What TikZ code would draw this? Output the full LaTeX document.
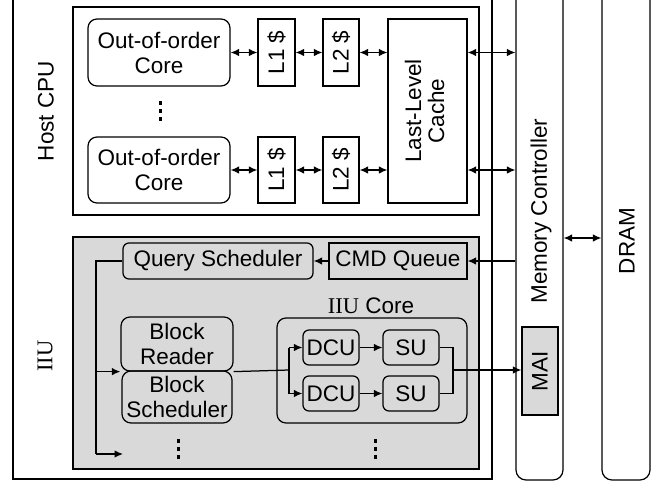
\documentclass[tikz,border=0pt]{standalone}
\usepackage{fontspec}
\setmainfont{Liberation Sans}
\newfontfamily\serifrm{Liberation Serif}
\usetikzlibrary{arrows.meta}
\definecolor{unitgray}{HTML}{D9D9D9}
\tikzset{
  lbl/.style={font=\fontsize{22.5}{25}\selectfont, align=center, inner sep=0pt},
  sq/.style={draw, line width=1.25pt, rectangle, inner sep=0pt, lbl},
  rbox/.style={sq, rounded corners=9pt},
  sbox/.style={sq, rounded corners=6pt},
  conn/.style={line width=1.25pt},
  arr/.style={conn, -{Latex[length=8.5pt,width=7.5pt]}},
  biarr/.style={conn, {Latex[length=8.5pt,width=7.5pt]}-{Latex[length=8.5pt,width=7.5pt]}},
  dot/.style={fill=black},
}
\begin{document}
\begin{tikzpicture}[x=1pt, y=-1pt]
\useasboundingbox (0,0) rectangle (657,482);
\clip (0,0) rectangle (657,482);

% system frame and the two memory-side columns
\node[sq, minimum width=479pt, minimum height=489pt] (sys) at (252.5,234.5) {};
\node[sq, rounded corners=10pt, fill=white, minimum width=47pt, minimum height=490pt] (mc) at (539.5,235) {};
\node[lbl, rotate=90] (mctxt) at (541,211) {Memory Controller};
\node[sq, rounded corners=10pt, minimum width=48pt, minimum height=490pt] (dram) at (626,235) {};
\node[lbl, rotate=90] (dramtxt) at (627,241) {DRAM};
\node[sq, fill=unitgray, minimum width=36pt, minimum height=88pt] (mai) at (540,371) {};
\node[lbl, rotate=90] (maitxt) at (540,371) {MAI};

% host CPU
\node[sq, minimum width=406pt, minimum height=208pt] (cpu) at (276,111) {};
\node[lbl, rotate=90] (cpulbl) at (46,111) {Host CPU};
\node[rbox, minimum width=142pt, minimum height=67pt] (core1) at (159,52.5) {Out-of-order\\Core};
\node[rbox, minimum width=142pt, minimum height=66pt] (core2) at (159,170) {Out-of-order\\Core};
\node[sq, minimum width=37pt, minimum height=67pt] (l1a) at (276.5,52.5) {\rotatebox{90}{L1 \$}};
\node[sq, minimum width=36pt, minimum height=67pt] (l2a) at (341,52.5) {\rotatebox{90}{L2 \$}};
\node[sq, minimum width=37pt, minimum height=66pt] (l1b) at (276.5,170) {\rotatebox{90}{L1 \$}};
\node[sq, minimum width=36pt, minimum height=66pt] (l2b) at (341,170) {\rotatebox{90}{L2 \$}};
\node[sq, minimum width=79pt, minimum height=184pt] (llc) at (427.5,111) {\rotatebox{90}{\begin{tabular}{@{}c@{}}Last-Level\\[-2pt]Cache\end{tabular}}};
\foreach \yy in {103,111,119} \fill[dot] (158.5,\yy-1.7) rectangle (161.5,\yy+1.7);

\draw[biarr] (core1.east) -- (l1a.west);
\draw[biarr] (l1a.east) -- (l2a.west);
\draw[biarr] (l2a.east) -- (l2a.east -| llc.west);
\draw[biarr] (core2.east) -- (l1b.west);
\draw[biarr] (l1b.east) -- (l2b.west);
\draw[biarr] (l2b.east) -- (l2b.east -| llc.west);
\draw[biarr] (l2a.east -| llc.east) -- (l2a.east -| mc.west);
\draw[biarr] (l2b.east -| llc.east) -- (l2b.east -| mc.west);

% IIU
\node[sq, fill=unitgray, minimum width=406pt, minimum height=232pt] (iiu) at (276,353) {};
\node[lbl, rotate=90] (iiulbl) at (45,356) {\serifrm IIU};
\node[sbox, minimum width=190pt, minimum height=36pt] (qs) at (218,261) {Query Scheduler};
\node[sq, minimum width=138pt, minimum height=36pt] (cmd) at (398,261) {CMD Queue};
\node[rbox, minimum width=112pt, minimum height=54pt] (br) at (177,344) {Block\\Reader};
\node[rbox, minimum width=110pt, minimum height=52pt] (bs) at (177,397) {Block\\Scheduler};
\node[rbox, minimum width=190pt, minimum height=105pt] (icore) at (372,370.5) {};
\node[lbl] (icorelbl) at (371,306) {{\serifrm IIU} Core};
\node[sbox, minimum width=56pt, minimum height=35pt] (dcu1) at (331,347.5) {DCU};
\node[sbox, minimum width=56pt, minimum height=35pt] (dcu2) at (331,393.5) {DCU};
\node[sbox, minimum width=56pt, minimum height=35pt] (su1) at (411,347.5) {SU};
\node[sbox, minimum width=56pt, minimum height=35pt] (su2) at (411,393.5) {SU};
\foreach \yy in {441,449,457} {
  \fill[dot] (176.5,\yy-1.7) rectangle (179.5,\yy+1.7);
  \fill[dot] (373.5,\yy-1.7) rectangle (376.5,\yy+1.7);
}

% IIU datapath
\coordinate (bus) at (96,261);
\coordinate (busend) at (96,454);
\coordinate (nextblk) at (123,454);
\coordinate (fork) at (289,370);
\coordinate (join) at (453,370);
\coordinate (memlink) at (mc.east |- 0,238);

\draw[biarr] (memlink) -- (memlink -| dram.west);
\draw[arr] (mc.west |- cmd.east) -- (cmd.east);
\draw[arr] (cmd.west) -- (qs.east);
\draw[conn] (qs.west) -- (bus) -- (busend);
\draw[arr] (busend) -- (nextblk);
\draw[arr] (bus |- br.south) -- (br.south west);
\draw[conn] (br.south east) -- (fork);
\draw[conn] (fork |- dcu1.west) -- (fork |- dcu2.west);
\draw[arr] (fork |- dcu1.west) -- (dcu1.west);
\draw[arr] (fork |- dcu2.west) -- (dcu2.west);
\draw[arr] (dcu1.east) -- (su1.west);
\draw[arr] (dcu2.east) -- (su2.west);
\draw[conn] (su1.east) -- (join |- su1.east) -- (join |- su2.east) -- (su2.east);
\draw[arr] (join) -- (join -| mai.west);
\end{tikzpicture}
\end{document}
